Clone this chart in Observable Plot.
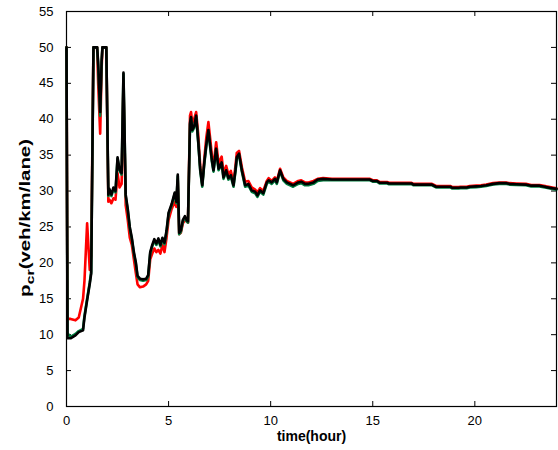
<!DOCTYPE html>
<html><head><meta charset="utf-8">
<script src="https://cdn.jsdelivr.net/npm/d3@7"></script>
<script src="https://cdn.jsdelivr.net/npm/@observablehq/plot@0.6"></script>
<style>body{margin:0;background:#fff;}</style>
</head><body><div id="chart"></div>
<script>
const time = [
0,0.05,0.2,0.44,0.6,0.81,0.88,1.01,1.14,1.21,
1.32,1.5,1.55,1.65,1.72,1.76,1.95,2.05,2.1,2.2,
2.3,2.4,2.5,2.6,2.7,2.79,2.9,3.0,3.1,3.2,
3.3,3.4,3.48,3.6,3.75,3.9,4.0,4.1,4.2,4.3,
4.4,4.5,4.6,4.7,4.8,4.9,5.0,5.15,5.3,5.38,
5.45,5.52,5.6,5.7,5.8,5.88,5.95,6.05,6.1,6.16,
6.25,6.35,6.45,6.55,6.65,6.75,6.85,6.95,7.05,7.12,
7.2,7.33,7.45,7.52,7.6,7.69,7.82,7.93,8.05,8.18,
8.28,8.34,8.45,8.59,8.75,8.91,9.07,9.24,9.35,9.48,
9.64,9.81,9.9,10.05,10.21,10.3,10.46,10.62,10.79,10.95,
11.1,11.35,11.5,11.68,11.85,12.1,12.3,12.57,13,14,
14.86,15.0,15.2,15.35,15.7,15.8,16.9,17.0,17.9,18.1,
18.8,18.9,19.2,19.3,19.6,19.75,20.07,20.3,20.56,20.9,
21.2,21.55,21.7,22.03,22.5,22.76,23.17,23.5,23.8,24];

const black = [
50,9.5,9.5,9.9,10.35,10.6,12.4,14.8,17.1,18.5,
50,50,48,41,48,50,50,29.5,30.3,29.5,
30.5,30,34.7,33,32.5,46.5,29.5,27.5,25,23.5,
21.5,20,18.2,17.8,17.7,17.8,18.3,21.5,22.5,23.3,
22.7,23.4,22.5,23.5,22.8,24.5,27,28.2,29.8,28.5,
32.3,24.2,24.5,26,26.5,26,25.8,39.5,40.3,38.5,
39,40.5,37,33,30.8,34,36.5,38.5,36,34.3,
32.9,35.9,33.1,33.5,34,31.9,32.9,31.8,32.2,30.8,
33,34.7,35.2,32.9,30.8,31,30.1,29.9,29.4,30.1,
29.7,31.2,31.5,31.2,31.7,31.2,32.9,31.7,31.2,31.0,
30.8,31.2,31.3,31.0,31.0,31.2,31.6,31.7,31.6,31.6,
31.6,31.4,31.4,31.15,31.15,31.05,31.05,30.9,30.9,30.6,
30.6,30.45,30.45,30.5,30.5,30.6,30.65,30.7,30.8,31.0,
31.1,31.1,31.0,30.95,30.9,30.75,30.75,30.55,30.4,30.3];

const red = [
50,12.2,12.2,12,12.4,15,17.5,25.5,19,21,
50,50,45,38,47,50,50,28.5,28.8,28.3,
29,28.8,32.5,30.5,31,45,28,26,23.5,22.5,
20.5,18.5,17,16.6,16.7,17,17.5,20.5,21.3,22,
21.5,21.8,21.3,22.5,21.5,23.5,26,27.5,28.5,27.8,
31.5,24,24.2,25.5,26,25.8,25.6,40.5,41,39.5,
40,41,38,33.5,31,34.5,37.5,39.6,37,35,
33.5,36.8,33.8,34.3,34.8,32.5,33.5,32.3,32.8,31.2,
33.6,35.3,35.6,33.3,31.3,31.4,30.5,30.2,29.8,30.4,
30,31.4,31.8,31.4,31.9,31.4,33.1,31.9,31.4,31.2,
31,31.4,31.5,31.2,31.2,31.4,31.7,31.8,31.7,31.7,
31.7,31.5,31.5,31.25,31.25,31.15,31.15,31.0,31.0,30.7,
30.7,30.55,30.55,30.6,30.6,30.7,30.75,30.8,30.9,31.1,
31.2,31.2,31.1,31.05,31.0,30.85,30.85,30.65,30.5,30.4];

const green = [
50,10.2,9.7,10.1,10.5,10.8,12.6,15,17.3,18.8,
50,50,47.5,40.5,48,50,50,29.3,30.1,29.3,
30.3,29.8,34.5,32.8,32.3,46.3,29.3,27.3,24.8,23.3,
21.3,19.8,18,17.6,17.5,17.6,18.1,21.3,22.3,23.1,
22.5,23.2,22.3,23.3,22.6,24.3,26.8,28,29.6,28.3,
32.1,24,24.3,25.8,26.3,25.8,25.6,39.3,40.1,38.3,
38.8,40.3,36.8,32.8,30.6,33.8,36.3,38.3,35.8,34.1,
32.7,35.7,32.9,33.3,33.8,31.7,32.7,31.6,32,30.6,
32.8,34.5,35,32.7,30.6,30.8,29.9,29.7,29.2,29.9,
29.5,31,31.3,31,31.5,31,32.7,31.5,31,30.8,
30.6,31,31.1,30.8,30.8,31,31.4,31.5,31.5,31.5,
31.5,31.3,31.3,31.05,31.05,30.95,30.95,30.8,30.8,30.5,
30.5,30.35,30.35,30.4,30.4,30.5,30.55,30.6,30.7,30.9,
31.0,31.0,30.9,30.85,30.8,30.65,30.65,30.45,30.3,30.2];

const xTicks = [0, 5, 10, 15, 20];
const yTicks = [0, 5, 10, 15, 20, 25, 30, 35, 40, 45, 50, 55];
const xLabel = "time(hour)";
const yLabelMain = "p";
const yLabelSub = "cr";
const yLabelRest = "(veh/km/lane)";

const rows = time.map((t, i) => ({t, red: red[i], green: green[i], black: black[i]}));

const W = 558, H = 450, mL = 66, mR = 2, mT = 11, mB = 44;
const innerH = H - mT - mB, innerW = W - mL - mR;
const tk = 5;

const svg = Plot.plot({
  width: W, height: H,
  marginLeft: mL, marginRight: mR, marginTop: mT, marginBottom: mB,
  style: {fontFamily: "'Liberation Sans', Arial, sans-serif", fontSize: "13px", color: "#000", background: "#fff", overflow: "visible"},
  x: {domain: [0, 24], label: null},
  y: {domain: [0, 55], label: null},
  marks: [
    Plot.axisX(xTicks, {anchor: "bottom", tickSize: 0, tickPadding: 9, fontSize: 13, label: null}),
    Plot.axisY(yTicks, {anchor: "left", tickSize: 0, tickPadding: 13, fontSize: 13, label: null}),
    Plot.tickX(xTicks, {x: d => d, insetTop: innerH - tk, stroke: "#000"}),
    Plot.tickX(xTicks, {x: d => d, insetBottom: innerH - tk, stroke: "#000"}),
    Plot.tickY(yTicks, {y: d => d, insetRight: innerW - tk, stroke: "#000"}),
    Plot.tickY(yTicks, {y: d => d, insetLeft: innerW - tk, stroke: "#000"}),
    Plot.lineY(rows, {x: "t", y: "red", stroke: "#ff0000", strokeWidth: 2.6}),
    Plot.lineY(rows, {x: "t", y: "green", stroke: "#007f3f", strokeWidth: 2.6}),
    Plot.lineY(rows, {x: "t", y: "black", stroke: "#000000", strokeWidth: 2.6}),
    Plot.frame({stroke: "#000", strokeWidth: 1.2}),
    Plot.text([xLabel], {text: d => d, frameAnchor: "bottom", dy: 34, fontWeight: "bold", fontSize: 14})
  ]
});

const yl = d3.select(svg).append("text")
  .attr("transform", `translate(30,218) rotate(-90)`)
  .attr("text-anchor", "middle")
  .attr("font-weight", "bold")
  .attr("font-size", 14)
  .attr("font-family", "'Liberation Sans', Arial, sans-serif")
  .attr("fill", "#000")
  .attr("textLength", 158)
  .attr("lengthAdjust", "spacingAndGlyphs");
yl.append("tspan").text(yLabelMain);
yl.append("tspan").attr("dy", 4).attr("font-size", 11).text(yLabelSub);
yl.append("tspan").attr("dy", -4).text(yLabelRest);

document.getElementById("chart").appendChild(svg);
</script>
</body></html>
